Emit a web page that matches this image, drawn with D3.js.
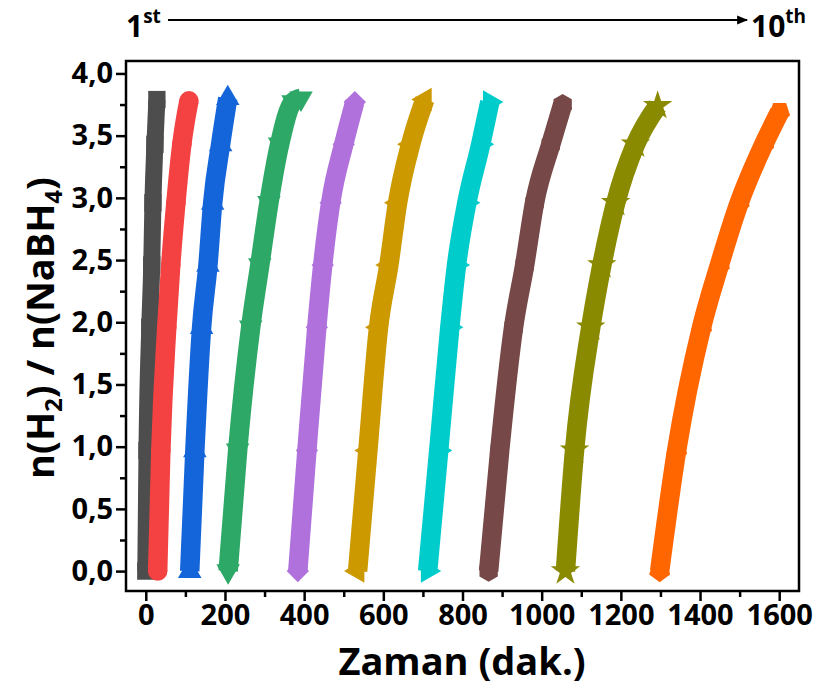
<!DOCTYPE html>
<html>
<head>
<meta charset="utf-8">
<script src="https://cdn.jsdelivr.net/npm/d3@7"></script>
<style>
  html, body { margin: 0; padding: 0; background: #fff; }
  svg text { font-family: "Open Sans", "DejaVu Sans", sans-serif; font-weight: 700; fill: #000; }
</style>
</head>
<body>
<svg id="chart" width="819" height="686"></svg>
<script>
// ---------------- data ----------------
const runNames = ["1st", "2nd", "3rd", "4th", "5th", "6th", "7th", "8th", "9th", "10th"];
const colors = ["#4d4d4d", "#f44242", "#1565da", "#2ea867", "#b071dc", "#cc9900", "#00cccc", "#774848", "#8a8a00", "#ff6600"];
const shapes = ["square", "circle", "triangleUp", "triangleDown", "diamond", "triangleLeft", "triangleRight", "hexagon", "star", "pentagon"];

const time1  = [0, 3, 10, 15, 18, 23, 28];
const time2  = [30, 38, 53, 63, 76, 91, 109];
const time3  = [111, 124, 141, 157, 169, 189, 207];
const time4  = [208, 232, 265, 288, 311, 338, 372, 392];
const time5  = [384, 407, 432, 447, 467, 500, 528];
const time6  = [535, 561, 588, 614, 636, 669, 705];
const time7  = [712, 740, 768, 785, 811, 846, 869];
const time8  = [866, 894, 929, 957, 982, 1023, 1053];
const time9  = [1060, 1083, 1124, 1152, 1187, 1237, 1293];
const time10 = [1298, 1341, 1404, 1449, 1499, 1561, 1601];

const ratio1  = [0, 0.97, 1.96, 2.46, 2.96, 3.43, 3.79];
const ratio2  = [0, 0.97, 1.96, 2.46, 2.96, 3.43, 3.78];
const ratio3  = [0, 0.97, 1.96, 2.46, 2.96, 3.43, 3.80];
const ratio4  = [0, 0.97, 1.96, 2.46, 2.96, 3.43, 3.77, 3.80];
const ratio5  = [0, 0.97, 1.96, 2.46, 2.96, 3.43, 3.77];
const ratio6  = [0, 0.97, 1.96, 2.46, 2.96, 3.43, 3.79];
const ratio7  = [0, 0.97, 1.96, 2.46, 2.96, 3.43, 3.77];
const ratio8  = [0, 0.97, 1.96, 2.46, 2.96, 3.43, 3.75];
const ratio9  = [0, 0.97, 1.96, 2.46, 2.96, 3.43, 3.74];
const ratio10 = [0, 0.97, 1.96, 2.46, 2.96, 3.43, 3.69];

const times  = [time1, time2, time3, time4, time5, time6, time7, time8, time9, time10];
const ratios = [ratio1, ratio2, ratio3, ratio4, ratio5, ratio6, ratio7, ratio8, ratio9, ratio10];

const xTicks = [0, 200, 400, 600, 800, 1000, 1200, 1400, 1600];
const yTicks = [0, 0.5, 1, 1.5, 2, 2.5, 3, 3.5, 4];
const xLabel = "Zaman (dak.)";

// ---------------- layout ----------------
const svg = d3.select("#chart");
svg.append("rect").attr("width", 819).attr("height", 686).attr("fill", "#fff");

const L = 126, R = 799, T = 61, B = 591;
const x = d3.scaleLinear().domain([-50, 1650]).range([L, R]);
const y = d3.scaleLinear().domain([-0.16, 4.1]).range([B, T]);

const fmt = d3.formatLocale({decimal: ",", thousands: "", grouping: [3], currency: ["", ""]}).format(".1f");

// custom polygon symbols
function polygonSymbol(n, rot) {
  return {
    draw(ctx, size) {
      const r = Math.sqrt(2 * size / (n * Math.sin(2 * Math.PI / n)));
      for (let i = 0; i < n; i++) {
        const a = rot + i * 2 * Math.PI / n;
        const px = r * Math.sin(a), py = -r * Math.cos(a);
        if (i === 0) ctx.moveTo(px, py); else ctx.lineTo(px, py);
      }
      ctx.closePath();
    }
  };
}
const symbolInfo = {
  square:        {type: d3.symbolSquare,   size: 300, rot: 0},
  circle:        {type: d3.symbolCircle,   size: 300, rot: 0},
  triangleUp:    {type: d3.symbolTriangle, size: 240, rot: 0},
  triangleDown:  {type: d3.symbolTriangle, size: 240, rot: 180},
  diamond:       {type: d3.symbolSquare,   size: 250, rot: 45},
  triangleLeft:  {type: d3.symbolTriangle, size: 240, rot: -90},
  triangleRight: {type: d3.symbolTriangle, size: 240, rot: 90},
  hexagon:       {type: polygonSymbol(6, 0), size: 290, rot: 0},
  star:          {type: d3.symbolStar,     size: 270, rot: 0},
  pentagon:      {type: polygonSymbol(5, Math.PI), size: 290, rot: 0}
};

// ---------------- series ----------------
const plot = svg.append("g");
const line = d3.line().x(d => x(d[0])).y(d => y(d[1])).curve(d3.curveMonotoneX);

times.forEach((ts, i) => {
  const pts = ts.map((t, j) => [t, ratios[i][j]]);
  const g = plot.append("g");
  g.append("path")
    .attr("d", line(pts))
    .attr("fill", "none")
    .attr("stroke", colors[i])
    .attr("stroke-width", i === 0 ? 17 : 19.5)
    .attr("stroke-linecap", "butt")
    .attr("stroke-linejoin", "round");
  const info = symbolInfo[shapes[i]];
  const sym = d3.symbol().type(info.type).size(info.size);
  g.selectAll("path.m").data(pts).join("path")
    .attr("class", "m")
    .attr("d", sym)
    .attr("transform", d => `translate(${x(d[0])},${y(d[1])}) rotate(${info.rot})`)
    .attr("fill", colors[i]);
});

// ---------------- axes ----------------
const xAxis = d3.axisBottom(x).tickValues(xTicks).tickSize(10).tickSizeOuter(0).tickPadding(3).tickFormat(d3.format("d"));
const xMinor = d3.axisBottom(x).tickValues(d3.range(100, 1700, 200)).tickSize(6).tickSizeOuter(0).tickFormat("");
const yAxis = d3.axisLeft(y).tickValues(yTicks).tickSize(10).tickSizeOuter(0).tickPadding(3).tickFormat(fmt);
const yMinor = d3.axisLeft(y).tickValues(d3.range(0.25, 4.1, 0.5)).tickSize(6).tickSizeOuter(0).tickFormat("");

function styleAxis(g) {
  g.select(".domain").remove();
  g.selectAll(".tick line").attr("stroke", "#000").attr("stroke-width", 2.5);
  g.selectAll(".tick text").style("font-size", "29px").attr("fill", "#000");
}
svg.append("g").attr("transform", `translate(0,${B})`).call(xAxis).call(styleAxis);
svg.append("g").attr("transform", `translate(0,${B})`).call(xMinor).call(styleAxis);
svg.append("g").attr("transform", `translate(${L},0)`).call(yAxis).call(styleAxis);
svg.append("g").attr("transform", `translate(${L},0)`).call(yMinor).call(styleAxis);

// frame
svg.append("rect").attr("x", L).attr("y", T).attr("width", R - L).attr("height", B - T)
  .attr("fill", "none").attr("stroke", "#000").attr("stroke-width", 2.5);

// axis titles
svg.append("text").attr("x", 462).attr("y", 675).attr("text-anchor", "middle")
  .style("font-size", "38px").text(xLabel);

const yt = svg.append("text").attr("transform", `translate(54,${328}) rotate(-90)`)
  .attr("text-anchor", "middle").style("font-size", "38px");
yt.append("tspan").text("n(H");
yt.append("tspan").attr("dy", 8).style("font-size", "24px").text("2");
yt.append("tspan").attr("dy", -8).text(") / n(NaBH");
yt.append("tspan").attr("dy", 8).style("font-size", "24px").text("4");
yt.append("tspan").attr("dy", -8).text(")");

// top annotation: 1st --> 10th
const defs = svg.append("defs");
defs.append("marker").attr("id", "arrow").attr("viewBox", "0 0 10 10").attr("refX", 9).attr("refY", 5)
  .attr("markerWidth", 6).attr("markerHeight", 5).attr("markerUnits", "strokeWidth").attr("orient", "auto")
  .append("path").attr("d", "M0,1 L10,5 L0,9 Z").attr("fill", "#000");

const t1 = svg.append("text").attr("x", 126).attr("y", 37).style("font-size", "30px");
t1.append("tspan").text("1");
t1.append("tspan").attr("dy", -14).style("font-size", "19px").text("st");

svg.append("line").attr("x1", 168).attr("x2", 747).attr("y1", 20).attr("y2", 20)
  .attr("stroke", "#000").attr("stroke-width", 2.2).attr("marker-end", "url(#arrow)");

const t10 = svg.append("text").attr("x", 751).attr("y", 37).style("font-size", "30px");
t10.append("tspan").text("10");
t10.append("tspan").attr("dy", -14).style("font-size", "19px").text("th");
</script>
</body>
</html>
